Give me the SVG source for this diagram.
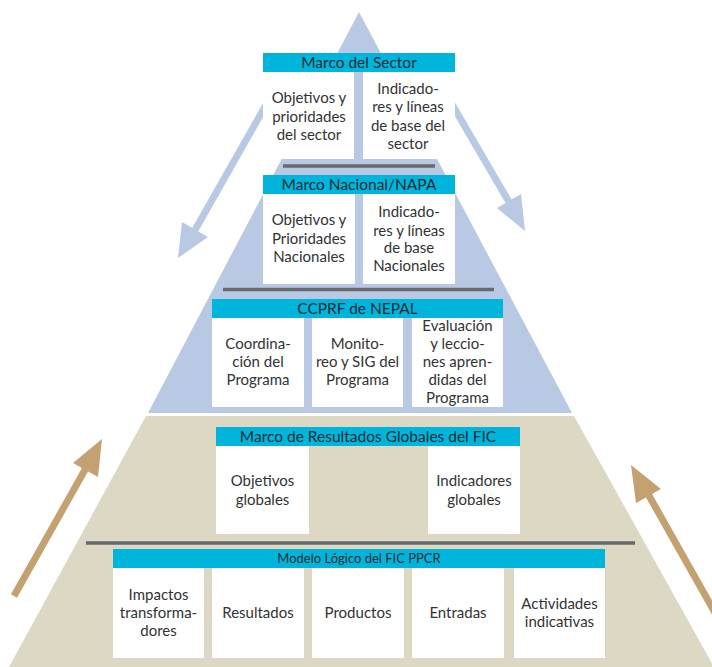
<svg xmlns="http://www.w3.org/2000/svg" width="712" height="667" viewBox="0 0 712 667">
<style>
.hdr{fill:#00B5DC}
.box{fill:#ffffff}
.sep{stroke:#666a6d;stroke-width:3.5}
.t{font-family:Lato,"Noto Sans",sans-serif;font-size:15px;fill:#333333;text-anchor:middle}
.h{font-family:Lato,"Noto Sans",sans-serif;font-size:15.5px;fill:#1c2b33;text-anchor:middle}
.hs{font-family:Lato,"Noto Sans",sans-serif;font-size:13px;fill:#1c2b33;text-anchor:middle}
.ab{stroke:#b9c8e3;stroke-width:7;fill:none}
.abh{fill:#b9c8e3}
.at{stroke:#c3a171;stroke-width:7;fill:none}
.ath{fill:#c3a171}
</style>
<rect x="0" y="0" width="712" height="667" fill="#ffffff"/>
<g id="background">
<polygon points="359,12 148,413 572,413" fill="#b9c8e3"/>
<polygon points="146,416 574,416 714,667 9,667" fill="#ddd8c3"/>
</g>
<g id="connectors">
<line class="ab" x1="275" y1="89" x2="195" y2="230"/>
<polygon class="abh" points="178,258 182,222 208,237"/>
<line class="ab" x1="443" y1="89" x2="509" y2="202"/>
<polygon class="abh" points="525,231 497,208 521,194"/>
<line class="at" x1="14" y1="596" x2="86" y2="468"/>
<polygon class="ath" points="102,439 73,463 98,477"/>
<line class="at" x1="722" y1="625" x2="648" y2="494"/>
<polygon class="ath" points="631,465 636,503 661,489"/>
</g>
<g id="separators">
<line class="sep" x1="283" y1="166" x2="435" y2="166"/>
<line class="sep" x1="223" y1="289.5" x2="494" y2="289.5"/>
<line class="sep" x1="86" y1="543" x2="635" y2="543"/>
</g>
<g id="sector">
<rect class="hdr" x="263" y="53" width="192" height="19"/>
<text class="h" x="359" y="68">Marco del Sector</text>
<rect class="box" x="263" y="72" width="91" height="87"/>
<rect class="box" x="363" y="72" width="92" height="87"/>
<text class="t" x="309" y="103">Objetivos y</text>
<text class="t" x="309" y="122">prioridades</text>
<text class="t" x="309" y="140">del sector</text>
<text class="t" x="408" y="94">Indicado-</text>
<text class="t" x="408" y="112">res y líneas</text>
<text class="t" x="408" y="131">de base del</text>
<text class="t" x="408" y="149">sector</text>
</g>
<g id="nacional">
<rect class="hdr" x="263" y="175" width="192" height="19"/>
<text class="h" x="359" y="190">Marco Nacional/NAPA</text>
<rect class="box" x="263" y="194" width="92" height="90"/>
<rect class="box" x="363" y="194" width="92" height="90"/>
<text class="t" x="309" y="225">Objetivos y</text>
<text class="t" x="309" y="244">Prioridades</text>
<text class="t" x="309" y="262">Nacionales</text>
<text class="t" x="409" y="217">Indicado-</text>
<text class="t" x="409" y="236">res y líneas</text>
<text class="t" x="409" y="253">de base</text>
<text class="t" x="409" y="271">Nacionales</text>
</g>
<g id="ccprf">
<rect class="hdr" x="212" y="299" width="291" height="19"/>
<text class="h" x="357.5" y="313.5">CCPRF de NEPAL</text>
<rect class="box" x="212" y="318" width="92" height="89"/>
<rect class="box" x="312" y="318" width="91" height="89"/>
<rect class="box" x="412" y="318" width="91" height="89"/>
<text class="t" x="258" y="349">Coordina-</text>
<text class="t" x="258" y="367">ción del</text>
<text class="t" x="258" y="385">Programa</text>
<text class="t" x="357.5" y="349">Monito-</text>
<text class="t" x="357.5" y="367">reo y SIG del</text>
<text class="t" x="357.5" y="385">Programa</text>
<text class="t" x="457.5" y="331">Evaluación</text>
<text class="t" x="457.5" y="349">y leccio-</text>
<text class="t" x="457.5" y="367">nes apren-</text>
<text class="t" x="457.5" y="385">didas del</text>
<text class="t" x="457.5" y="403">Programa</text>
</g>
<g id="fic-global">
<rect class="hdr" x="216" y="427" width="304" height="19"/>
<text class="h" x="368" y="441.5">Marco de Resultados Globales del FIC</text>
<rect class="box" x="216" y="446" width="93" height="88"/>
<rect class="box" x="428" y="446" width="92" height="88"/>
<text class="t" x="262.5" y="486">Objetivos</text>
<text class="t" x="262.5" y="505">globales</text>
<text class="t" x="474" y="486">Indicadores</text>
<text class="t" x="474" y="505">globales</text>
</g>
<g id="fic-logico">
<rect class="hdr" x="113" y="549" width="492" height="19"/>
<text class="hs" x="359" y="563">Modelo Lógico del FIC PPCR</text>
<rect class="box" x="113" y="568" width="91" height="90"/>
<rect class="box" x="212" y="568" width="92" height="90"/>
<rect class="box" x="312" y="568" width="92" height="90"/>
<rect class="box" x="412" y="568" width="92" height="90"/>
<rect class="box" x="514" y="568" width="91" height="90"/>
<text class="t" x="158.5" y="600">Impactos</text>
<text class="t" x="158.5" y="618">transforma-</text>
<text class="t" x="158.5" y="636">dores</text>
<text class="t" x="258" y="618">Resultados</text>
<text class="t" x="358" y="618">Productos</text>
<text class="t" x="458" y="618">Entradas</text>
<text class="t" x="559.5" y="609">Actividades</text>
<text class="t" x="559.5" y="627">indicativas</text>
</g>
</svg>
